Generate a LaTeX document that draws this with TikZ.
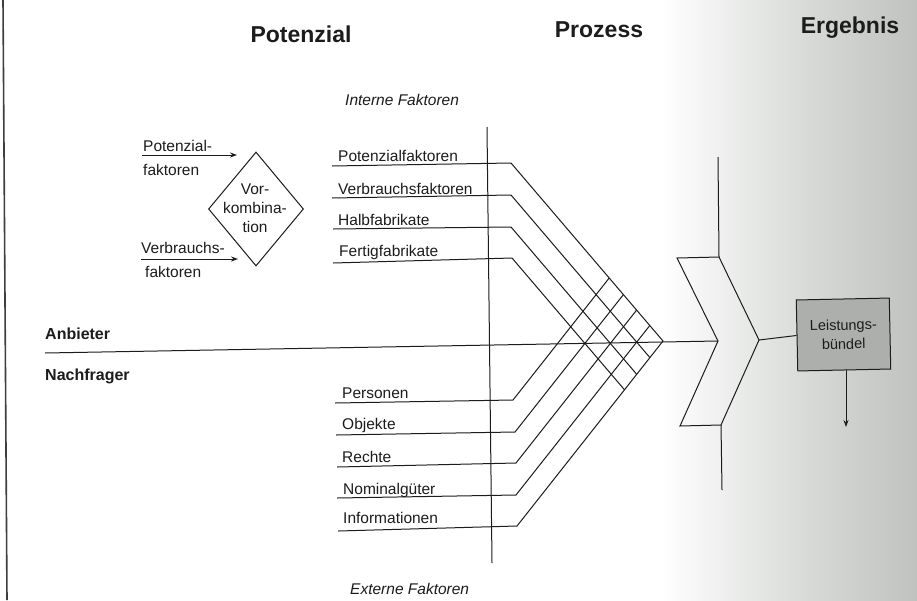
\documentclass[tikz,border=0pt]{standalone}
\usepackage{fontspec}
\setmainfont{Liberation Sans}
\usetikzlibrary{arrows.meta,shapes.geometric,calc}
\definecolor{ink}{HTML}{1C1C1C}
\definecolor{boxgray}{HTML}{ADAFAD}
\definecolor{shadeA}{HTML}{F0F1F0}
\definecolor{shadeB}{HTML}{D8DAD8}
\definecolor{shadeC}{HTML}{C0C2C0}
\pgfdeclarehorizontalshading{pageshading}{100bp}{%
  color(0bp)=(white); color(61bp)=(white); color(64bp)=(shadeA);
  color(69bp)=(shadeB); color(75bp)=(shadeC); color(100bp)=(shadeC)}
\begin{document}
\begin{tikzpicture}[x=1pt,y=-1pt,
  ln/.style={draw=ink, line width=1pt},
  arr/.style={ln, -{Stealth[length=7pt,width=5pt]}},
  lbl/.style={anchor=base west, inner sep=0, text=ink, font=\fontsize{15.5}{19}\selectfont},
  boldlbl/.style={lbl, font=\fontsize{16}{19}\selectfont\bfseries},
  head/.style={anchor=base, inner sep=0, text=ink, font=\fontsize{23}{27}\selectfont\bfseries},
  itlbl/.style={lbl, font=\fontsize{15.5}{19}\selectfont\itshape}]
\useasboundingbox (0,0) rectangle (917,600);
% scanned page shading at the right
\shade[shading=pageshading] (0,0) rectangle (917,600);
% page edge at the left
\coordinate (edgeT) at (3,0);
\coordinate (edgeB) at (7,600);
\draw[ink!85, line width=1.6pt] (edgeT) -- (edgeB);

% headings
\node[head] (hPot) at (301,42) {Potenzial};
\node[head] (hPro) at (599,37) {Prozess};
\node[head] (hErg) at (850,33) {Ergebnis};

\node[itlbl] (intF) at (345,105) {Interne Faktoren};
\node[itlbl] (extF) at (350,594) {Externe Faktoren};

% Anbieter / Nachfrager
\node[boldlbl] (anb) at (45,339) {Anbieter};
\node[boldlbl] (nach) at (45,380) {Nachfrager};

% Vorkombination
\node[diamond, draw=ink, line width=1pt, minimum width=95, minimum height=114, inner sep=0] (dia) at (256,209) {};
\node[align=center, inner sep=0, text=ink, font=\fontsize{15.5}{19}\selectfont] (diatxt) at (255,208) {Vor-\\kombina-\\tion};
\node[lbl] (pfa1) at (143,151) {Potenzial-};
\node[lbl] (pfa2) at (143,175) {faktoren};
\node[lbl] (vfa1) at (141,253) {Verbrauchs-};
\node[lbl] (vfa2) at (145,277) {faktoren};
\coordinate (pfS) at (142,155);
\coordinate (pfE) at (237,155);
\coordinate (vfS) at (141,259);
\coordinate (vfE) at (238,259);
\draw[arr] (pfS) -- (pfE);
\draw[arr] (vfS) -- (vfE);

% factor labels
\node[lbl] (tD0) at (338,161) {Potenzialfaktoren};
\node[lbl] (tD1) at (338,194) {Verbrauchsfaktoren};
\node[lbl] (tD2) at (338,225) {Halbfabrikate};
\node[lbl] (tD3) at (339,256) {Fertigfabrikate};
\node[lbl] (tU0) at (342,398) {Personen};
\node[lbl] (tU1) at (342,429) {Objekte};
\node[lbl] (tU2) at (342,462) {Rechte};
\node[lbl] (tU3) at (343,494) {Nominalgüter};
\node[lbl] (tU4) at (343,523) {Informationen};

% lattice: internal factors (down-right) and external factors (up-right)
\foreach \i/\lx/\ly/\bx/\by/\ex/\ey in {
    0/332/166/511/163/663/341,
    1/332/198/511/195/649.9/357.6,
    2/333/229/511/227/636.7/374.3,
    3/333/263/512/258/624.5/389.8}{
  \coordinate (dL\i) at (\lx,\ly);
  \coordinate (dB\i) at (\bx,\by);
  \coordinate (dE\i) at (\ex,\ey);
  \draw[ln] (dL\i) -- (dB\i) -- (dE\i);
}
\foreach \i/\lx/\ly/\bx/\by/\ex/\ey in {
    0/335/403/513/400/609.2/278.0,
    1/336/435/515/432/623.4/294.6,
    2/337/467/516/463/636.6/310.1,
    3/337/498/516/495/649.8/325.5,
    4/338/531/517/526/663/341}{
  \coordinate (uL\i) at (\lx,\ly);
  \coordinate (uB\i) at (\bx,\by);
  \coordinate (uE\i) at (\ex,\ey);
  \draw[ln] (uL\i) -- (uB\i) -- (uE\i);
}

% vertical axis between internal and external factors
\coordinate (axT) at (487,127);
\coordinate (axB) at (492,563);
\draw[ln] (axT) -- (axB);

% process chevron
\coordinate (chTL) at (677,258);
\coordinate (chTR) at (719,257);
\coordinate (chTip) at (759,340);
\coordinate (chBR) at (721,425);
\coordinate (chBL) at (680,426);
\coordinate (chNotch) at (718,341);
\draw[ln] (chTL) -- (chTR) -- (chTip) -- (chBR) -- (chBL) -- (chNotch) -- cycle;
\coordinate (prT) at (718,157);
\coordinate (prB) at (722,490);
\draw[ln] (prT) -- (chTR);
\draw[ln] (chBR) -- (prB);

% Anbieter / Nachfrager line
\coordinate (anL) at (45,353);
\draw[ln] (anL) -- (chNotch);

% result
\node[draw=ink, line width=1pt, fill=boxgray, minimum width=93, minimum height=71, rotate=1.2,
      align=center, inner sep=0, text=ink, font=\fontsize{14.5}{19}\selectfont] (box) at (843.5,334.5) {Leistungs-\\bündel};
\draw[ln] (chTip) -- (box.west);
\coordinate (resEnd) at (846,427);
\draw[arr] (box.south -| resEnd) -- (resEnd);
\end{tikzpicture}
\end{document}
